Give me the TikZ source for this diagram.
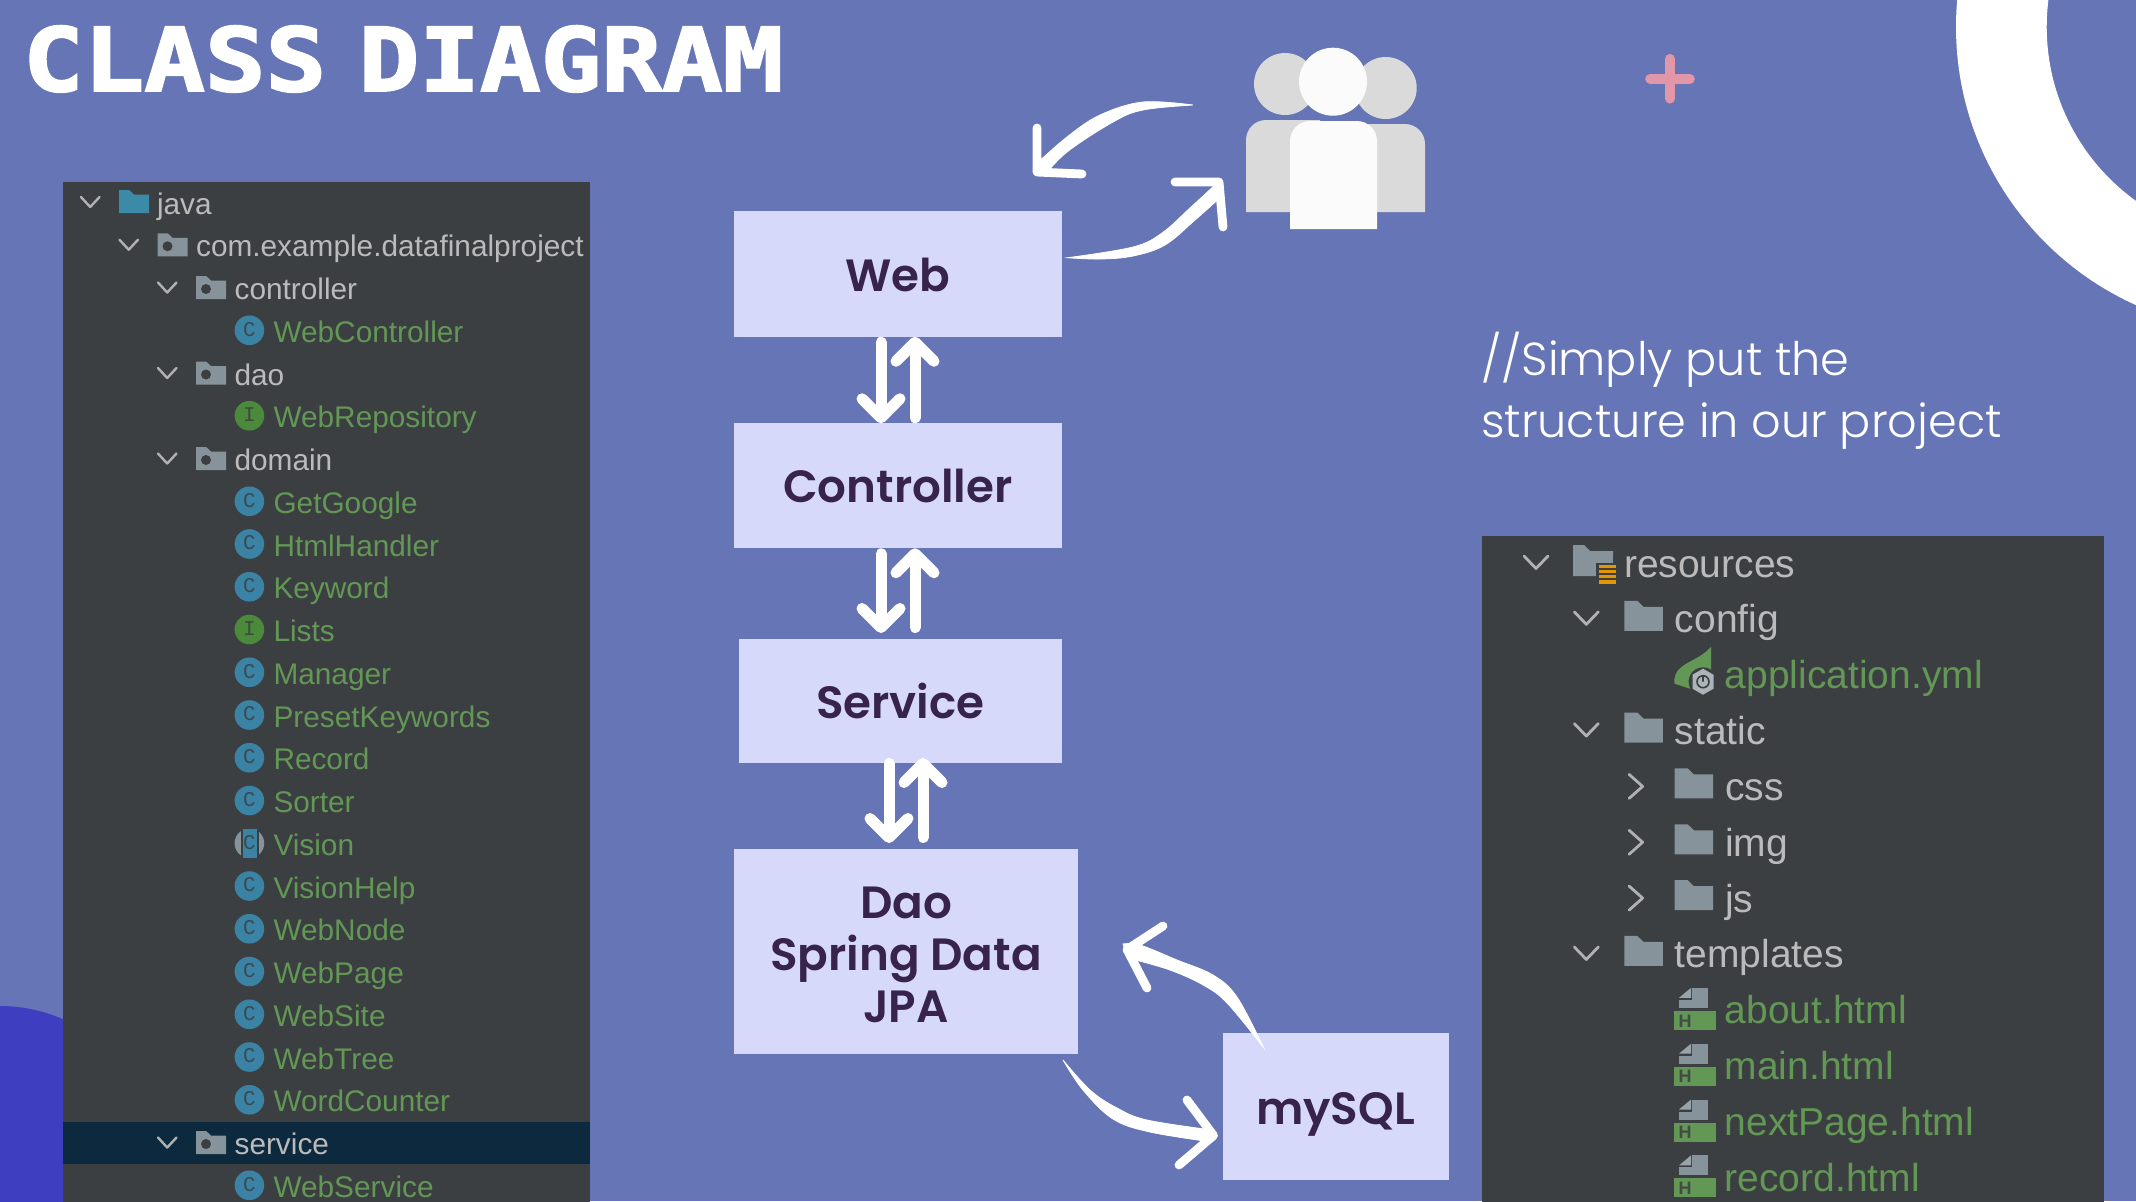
\documentclass[tikz,border=0pt]{standalone}
\usepackage{fontspec}
\usetikzlibrary{arrows.meta,calc}
\setmainfont{Liberation Sans}
\newfontfamily\titlef{DejaVu Sans Mono}[BoldFeatures={FakeBold=2.2}]
\newfontfamily\boxf{Poppins SemiBold}
\newfontfamily\notef{Poppins Light}
\newfontfamily\iconf{Liberation Mono}
\definecolor{bg}{HTML}{6675B5}
\definecolor{boxc}{HTML}{D6D9FA}
\definecolor{ink}{HTML}{37234D}
\definecolor{panel}{HTML}{3C3F41}
\definecolor{tree}{HTML}{BBBBBB}
\definecolor{leaf}{HTML}{629755}
\definecolor{fold}{HTML}{87939A}
\definecolor{teal}{HTML}{3A8AA8}
\definecolor{classc}{HTML}{3A83A5}
\definecolor{ifacec}{HTML}{4C8A3B}
\definecolor{sel}{HTML}{0D293E}
\definecolor{chev}{HTML}{AFB1B3}
\definecolor{blob}{HTML}{3D3FC0}
\definecolor{pinkc}{HTML}{E197A8}
\definecolor{backp}{HTML}{DADADA}
\definecolor{frontp}{HTML}{FBFBFB}
\tikzset{
  every node/.style={inner sep=0pt,outer sep=0pt},
  flowbox/.style={fill=boxc,align=center,text=ink,font=\boxf\fontsize{22.6pt}{26pt}\selectfont},
  ltext/.style={anchor=base west,text=tree,font=\fontsize{14.9pt}{18pt}\selectfont},
  lleaf/.style={anchor=base west,text=leaf,font=\fontsize{14.9pt}{18pt}\selectfont},
  rtext/.style={anchor=base west,text=tree,font=\fontsize{19.5pt}{22pt}\selectfont},
  rleaf/.style={anchor=base west,text=leaf,font=\fontsize{19.5pt}{22pt}\selectfont},
  chevl/.style={draw=chev,line width=1.2pt,line cap=round,line join=round},
  blockarrow/.style={draw=white,line width=5.5pt,line cap=round,-{Straight Barb[length=9.5pt,width=19pt,line width=5.5pt,round]}},
  barb/.style={draw=white,line width=4.4pt,line cap=round,line join=round},
  brush/.style={fill=white,draw=white,line width=.4pt}
}
% folder: x, y(centre), w, h, colour
\newcommand\folderic[5]{%
  \fill[#5] (#1,#2+0.5*#4) -- (#1+#3,#2+0.5*#4) -- (#1+#3,#2-0.3*#4) -- (#1+0.5*#3,#2-0.3*#4) -- (#1+0.34*#3,#2-0.5*#4) -- (#1,#2-0.5*#4) -- cycle;}
% package row: name,row,level,text
\newcommand\pkgrow[4]{%
  \pgfmathsetmacro\yy{202+42.75*#2}\pgfmathsetmacro\xx{81+38.5*#3}%
  \draw[chevl] (\xx,\yy-5) -- (\xx+9.2,\yy+5) -- (\xx+18.5,\yy-5);
  \folderic{\xx+38}{\yy}{30}{23}{fold}
  \fill[panel] (\xx+48,\yy+1.5) circle[radius=2.5pt];
  \node[ltext] (#1) at (\xx+76.6,\yy+12) {#4};}
% class row: name,row,text,letter,colour
\newcommand\clsrow[5]{%
  \pgfmathsetmacro\yy{202+42.75*#2}%
  \fill[#5] (249.4,\yy) circle[radius=7.4pt];
  \node[text=panel!85!#5,font=\iconf\fontsize{10.5pt}{11pt}\selectfont] at (249.4,\yy-1) {#4};
  \node[lleaf] (#1) at (273.5,\yy+12) {#3};}
% right tree rows
\newcommand\rowy[1]{\pgfmathsetmacro\yy{563+55.85*#1}}
\newcommand\rfold[5]{% name,row,level,text,chevron(d/r)
  \rowy{#2}\pgfmathsetmacro\xx{1524+50.3*#3}%
  \if#5d\draw[chevl,line width=1.4pt] (\xx,\yy-7) -- (\xx+12,\yy+5.5) -- (\xx+24,\yy-7);\else
  \draw[chevl,line width=1.4pt] (\xx+4.5,\yy-12) -- (\xx+18,\yy) -- (\xx+4.5,\yy+12);\fi
  \folderic{\xx+50}{\yy-3}{38.5}{30}{fold}
  \node[rtext] (#1) at (\xx+100.6,\yy+14) {#4};}
\newcommand\htmlrow[3]{%
  \rowy{#2}%
  \fill[fold] (1692,\yy-22) rectangle (1708,\yy-2);
  \fill[fold] (1679,\yy-10) rectangle (1708,\yy-2);
  \fill[fold!85!white] (1679,\yy-12) -- (1691,\yy-22) -- (1691,\yy-12) -- cycle;
  \fill[leaf] (1674,\yy+1) rectangle (1716,\yy+20);
  \node[text=panel!85!leaf,font=\bfseries\fontsize{9pt}{10pt}\selectfont] at (1685,\yy+11) {H};
  \node[rleaf] (#1) at (1724.8,\yy+14) {#3};}
\begin{document}
\begin{tikzpicture}[x=0.5pt,y=-0.5pt]
\useasboundingbox (0,0) rectangle (2136,1201);
\fill[bg] (0,0) rectangle (2136,1201);
\begin{scope}
\clip (0,0) rectangle (2136,1201);
\fill[white,even odd rule] (2260.7,27) circle[radius=152.35pt] (2260.7,27) circle[radius=107pt];
\fill[blob] (0,1162) circle[radius=78pt];
% left panel
\fill[panel] (62.5,182) rectangle (590,1206);
\fill[sel] (62.5,1121.7) rectangle (590,1164);
% right panel
\fill[panel] (1482,535.5) rectangle (2103.5,1206);
\end{scope}
% title
\node[anchor=base west,text=white,font=\titlef\bfseries\fontsize{44pt}{48pt}\selectfont,xscale=1.145] (title) at (23,91) {CLASS\hspace{-0.28em} DIAGRAM};
% plus
\draw[pinkc,line width=4.8pt,line cap=round] (1650,78.7) -- (1690,78.7) (1670,58.7) -- (1670,98.7);
% people
\fill[backp] (1285,84) circle[radius=15.5pt];
\fill[backp] (1385.7,88) circle[radius=15.5pt];
\fill[backp] (1246,212) -- (1246,140) arc[start angle=180,end angle=90,radius=10pt] -- (1320,120) -- (1320,212) -- cycle;
\fill[backp] (1340,212) -- (1340,124) -- (1405,124) arc[start angle=90,end angle=0,radius=10pt] -- (1425,212) -- cycle;
\fill[frontp] (1333,81.7) circle[radius=17pt];
\fill[frontp] (1290,229) -- (1290,141) arc[start angle=180,end angle=90,radius=10pt] -- (1357,121) arc[start angle=90,end angle=0,radius=10pt] -- (1377,229) -- cycle;
\coordinate (users) at (1193,105);
\coordinate (usersin) at (1219,182);
% left tree
\draw[chevl] (81,197) -- (90.2,207) -- (99.5,197);
\folderic{119}{201.5}{30}{23}{teal}
\node[ltext] (java) at (157,214) {java};
\pkgrow{pcom}{1}{1}{com.example.datafinalproject}
\pkgrow{pctrl}{2}{2}{controller}
\clsrow{cwc}{3}{WebController}{C}{classc}
\pkgrow{pdao}{4}{2}{dao}
\clsrow{cwr}{5}{WebRepository}{I}{ifacec}
\pkgrow{pdom}{6}{2}{domain}
\clsrow{cgg}{7}{GetGoogle}{C}{classc}
\clsrow{chh}{8}{HtmlHandler}{C}{classc}
\clsrow{ckw}{9}{Keyword}{C}{classc}
\clsrow{cls}{10}{Lists}{I}{ifacec}
\clsrow{cmg}{11}{Manager}{C}{classc}
\clsrow{cpk}{12}{PresetKeywords}{C}{classc}
\clsrow{crc}{13}{Record}{C}{classc}
\clsrow{cso}{14}{Sorter}{C}{classc}
\pgfmathsetmacro\yy{202+42.75*15}
\fill[fold] (249.4,\yy) circle[radius=7.4pt];
\fill[panel] (241,\yy-15) rectangle (259,\yy+15);
\fill[classc] (243,\yy-14.5) rectangle (256.5,\yy+14.5);
\node[text=panel!85!classc,font=\iconf\fontsize{10.5pt}{11pt}\selectfont] at (249.4,\yy-1) {C};
\node[lleaf] (cvi) at (273.5,\yy+12) {Vision};
\clsrow{cvh}{16}{VisionHelp}{C}{classc}
\clsrow{cwn}{17}{WebNode}{C}{classc}
\clsrow{cwp}{18}{WebPage}{C}{classc}
\clsrow{cws}{19}{WebSite}{C}{classc}
\clsrow{cwt}{20}{WebTree}{C}{classc}
\clsrow{cwo}{21}{WordCounter}{C}{classc}
\pkgrow{psv}{22}{2}{service}
\clsrow{cwv}{23}{WebService}{C}{classc}
% right tree
\rowy{0}
\draw[chevl,line width=1.4pt] (1524,\yy-7) -- (1536,\yy+5.5) -- (1548,\yy-7);
\fill[fold] (1573,\yy+13) -- (1597,\yy+13) -- (1597,\yy-5) -- (1613,\yy-5) -- (1613,\yy-12) -- (1590,\yy-12) -- (1584,\yy-18) -- (1573,\yy-18) -- cycle;
\fill[fold] (1590,\yy-12) rectangle (1613,\yy+13);
\fill[panel] (1596,\yy+0) rectangle (1618,\yy+20);
\foreach \k in {0,1,2,3}{\fill[orange!70!yellow!90!black] (1598.5,\yy+2+5.1*\k) rectangle (1616,\yy+5.2+5.1*\k);}
\node[rtext] (rres) at (1624,\yy+14) {resources};
\rfold{rcfg}{1}{1}{config}{d}
\rowy{2}
\fill[leaf] (1674.5,\yy+9) .. controls (1672,\yy-12) and (1698,\yy-12) .. (1711,\yy-28) -- (1711,\yy+2) -- (1690,\yy+14) -- cycle;
\fill[panel] (1703,\yy+7) circle[radius=7.2pt];
\fill[fold!70!white] (1703,\yy-6) -- (1713.5,\yy) -- (1713.5,\yy+14) -- (1703,\yy+20) -- (1692.5,\yy+14) -- (1692.5,\yy) -- cycle;
\draw[panel,line width=.8pt] (1703,\yy+7) circle[radius=3pt] (1703,\yy+1.5) -- (1703,\yy+7);
\node[rleaf] (rapp) at (1724.8,\yy+14) {application.yml};
\rfold{rsta}{3}{1}{static}{d}
\rfold{rcss}{4}{2}{css}{r}
\rfold{rimg}{5}{2}{img}{r}
\rfold{rjs}{6}{2}{js}{r}
\rfold{rtpl}{7}{1}{templates}{d}
\htmlrow{rabo}{8}{about.html}
\htmlrow{rmai}{9}{main.html}
\htmlrow{rnex}{10}{nextPage.html}
\htmlrow{rrec}{11}{record.html}
% note
\node[anchor=base west,text=white,font=\notef\fontsize{23.1pt}{31.5pt}\selectfont] (n1) at (1481,375) {//Simply put the};
\node[anchor=base west,text=white,font=\notef\fontsize{23.1pt}{31.5pt}\selectfont] (n2) at (1481,437) {structure in our project};
% boxes
\node[flowbox,minimum width=163.75pt,minimum height=62.75pt] (web) at (897.75,274) {\rule{0pt}{18pt}Web};
\node[flowbox,minimum width=163.75pt,minimum height=62.5pt] (ctrl) at (897.75,485.75) {Controller};
\node[flowbox,minimum width=161.25pt,minimum height=62pt] (svc) at (900.25,701) {Service};
\node[flowbox,minimum width=172pt,minimum height=102.5pt] (dao) at (906,951.5) {\rule{0pt}{19.5pt}Dao\\Spring Data\\JPA};
\node[flowbox,minimum width=113pt,minimum height=73.5pt] (sql) at (1335.5,1106) {\rule{0pt}{24.5pt}mySQL};
% vertical arrows
\coordinate (xa) at (881,0); \coordinate (xb) at (915,0);
\coordinate (xc) at (889,0); \coordinate (xd) at (923,0);
\draw[blockarrow] ($(web.south -| xa)+(0,5.5)$) -- (ctrl.north -| xa);
\draw[blockarrow] ($(ctrl.north -| xb)+(0,-5.5)$) -- (web.south -| xb);
\draw[blockarrow] ($(ctrl.south -| xa)+(0,5.5)$) -- ($(svc.north -| xa)+(0,-6)$);
\draw[blockarrow] ($(svc.north -| xb)+(0,-11.5)$) -- (ctrl.south -| xb);
\draw[blockarrow] ($(svc.south -| xc)+(0,0.5)$) -- ($(dao.north -| xc)+(0,-6)$);
\draw[blockarrow] ($(dao.north -| xd)+(0,-11.5)$) -- ($(svc.south -| xd)+(0,-5)$);
% hand-drawn arrows
\coordinate (t1) at (1037,172);
\fill[brush] plot[smooth,tension=.6] coordinates {(users) (1143,102) (1100,115) (1067,137) (1034,166)} -- plot[smooth,tension=.6] coordinates {(1044,176) (1067,152) (1113,122) (1143,110) (users)} -- cycle;
\draw[barb] (1037,128) -- (t1) -- (1082,174);
\coordinate (s2) at ($(web.south east)+(6,-79)$);
\fill[brush] plot[smooth,tension=.6] coordinates {(s2) (1133,247) (1162,233) (1190,208) (1216,184)} -- plot[smooth,tension=.6] coordinates {(1222,196) (1195,220) (1165,245) (1133,256) (1100,259) (s2)} -- cycle;
\draw[barb] (1175,182) -- (usersin) -- (1223,227);
\coordinate (s3) at ($(sql.north west)+(41,15)$);
\coordinate (t3) at ($(dao.east)+(49,-2)$);
\fill[brush] plot[smooth,tension=.6] coordinates {(s3) (1237,997) (1213,975) (1177,960) (1140,945) (1123,944)} -- plot[smooth,tension=.6] coordinates {(1128,958) (1170,970) (1205,986) (1228,1004) (s3)} -- cycle;
\draw[barb] (1163,926) -- (t3) -- (1147,988);
\coordinate (s4) at ($(dao.south east)+(-15,6)$);
\coordinate (t4) at ($(sql.west)+(-9,29.5)$);
\fill[brush] plot[smooth,tension=.6] coordinates {(s4) (1090,1090) (1117,1108) (1147,1120) (1212,1130)} -- plot[smooth,tension=.6] coordinates {(1212,1142) (1150,1132) (1113,1119) (1083,1090) (s4)} -- cycle;
\draw[barb] (1187,1100) -- (t4) -- (1179,1165);
\end{tikzpicture}
\end{document}
